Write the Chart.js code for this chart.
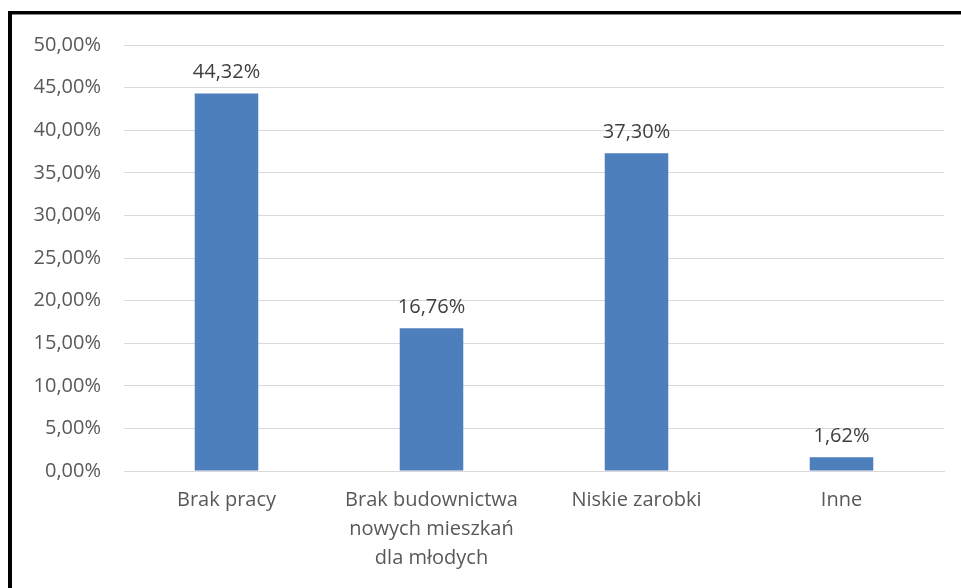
<!DOCTYPE html>
<html>
<head>
<meta charset="utf-8">
<script src="https://cdn.jsdelivr.net/npm/chart.js@4"></script>
<style>
  html, body { margin: 0; padding: 0; background: #fff; }
  body { width: 961px; height: 588px; position: relative; overflow: hidden; }
  .frame {
    position: absolute; left: 8px; top: 11px; width: 953px; height: 577px;
    border-top: 3px solid #000; border-left: 4px solid #000;
    box-shadow: inset 0 1px 0 #888;
    box-sizing: border-box;
  }
  .chart-box { position: absolute; left: 12px; top: 15px; width: 949px; height: 573px; }
</style>
</head>
<body>
<div class="frame"></div>
<div class="chart-box"><canvas id="myChart"></canvas></div>
<script>
var categories = [
  "Brak pracy",
  ["Brak budownictwa", "nowych mieszkań", "dla młodych"],
  "Niskie zarobki",
  "Inne"
];
var values = [44.32, 16.76, 37.30, 1.62];
var yTicks = [0, 5, 10, 15, 20, 25, 30, 35, 40, 45, 50];

function pct(v) {
  return v.toFixed(2).replace(".", ",") + "%";
}

// simple value labels above bars
const barLabels = {
  id: "barLabels",
  afterDatasetsDraw(chart) {
    const ctx = chart.ctx;
    const meta = chart.getDatasetMeta(0);
    ctx.save();
    ctx.font = "20px 'Open Sans'";
    ctx.fillStyle = "#404040";
    ctx.textAlign = "center";
    ctx.textBaseline = "alphabetic";
    meta.data.forEach(function (bar, i) {
      ctx.fillText(pct(values[i]), bar.x, bar.y - 15);
    });
    ctx.restore();
  },
};

const data = {
  labels: categories,
  datasets: [
    {
      data: values,
      backgroundColor: "#4e7fbd",
      barPercentage: 0.62,
      categoryPercentage: 0.5,
    },
  ],
};

const config = {
  type: "bar",
  data: data,
  options: {
    responsive: true,
    maintainAspectRatio: false,
    animation: false,
    layout: {
      padding: { top: 30, right: 17, left: 0, bottom: 0 },
    },
    plugins: {
      legend: { display: false },
      tooltip: { enabled: false },
    },
    scales: {
      x: {
        grid: { display: false, drawTicks: false },
        border: { color: "#d9d9d9" },
        ticks: {
          color: "#595959",
          font: { family: "'Open Sans'", size: 20, lineHeight: 1.45 },
          padding: 15,
          maxRotation: 0,
          autoSkip: false,
        },
        afterFit: function (scale) {
          scale.height = 117;
        },
      },
      y: {
        min: 0,
        max: 50,
        afterBuildTicks: function (scale) {
          scale.ticks = yTicks.map(function (v) { return { value: v }; });
        },
        grid: { color: "#d9d9d9", drawTicks: false },
        border: { display: false },
        ticks: {
          color: "#595959",
          font: { family: "'Open Sans'", size: 20 },
          padding: 23,
          callback: function (v) { return pct(v); },
        },
        afterFit: function (scale) {
          scale.width = 112;
          scale.paddingTop = 0;
          scale.paddingBottom = 0;
        },
      },
    },
  },
  plugins: [barLabels],
};

const chart = new Chart(document.getElementById("myChart"), config);
</script>
</body>
</html>
